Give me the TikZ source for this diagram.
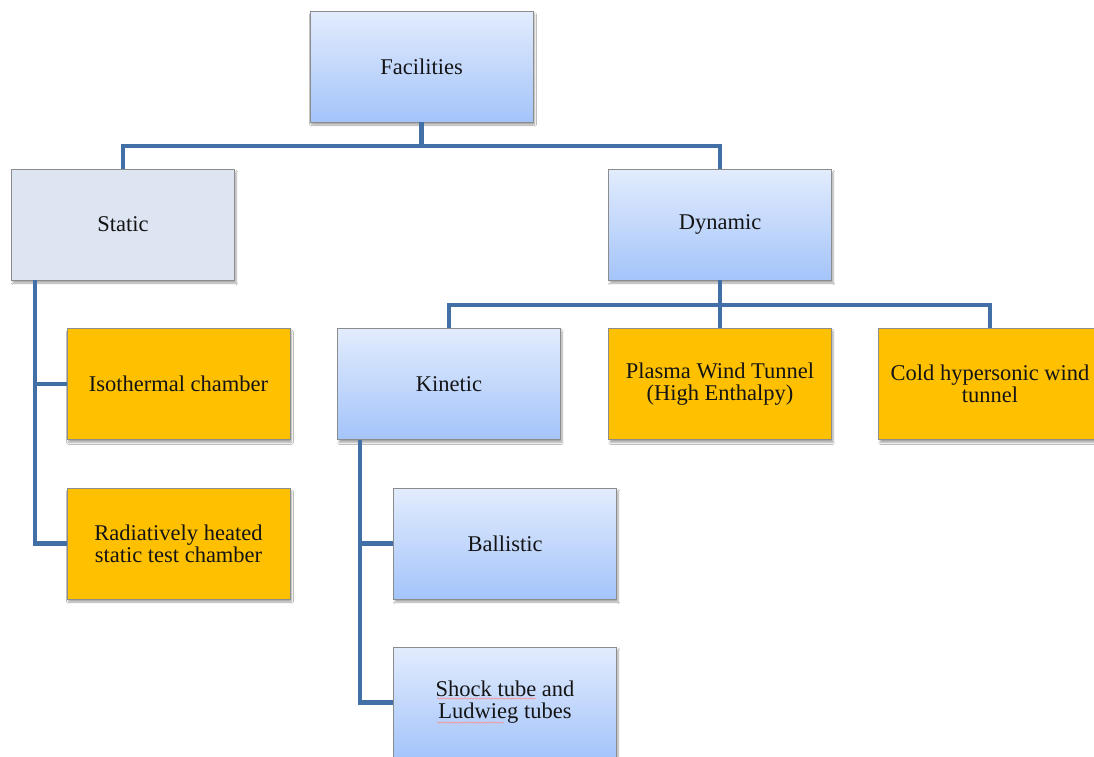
\documentclass[tikz,border=0pt]{standalone}
\usepackage{fontspec}
\setmainfont{Liberation Serif}
\usetikzlibrary{shadows.blur,decorations.pathmorphing}

\definecolor{linkblue}{RGB}{66,111,166}
\definecolor{boxtop}{RGB}{226,236,253}
\definecolor{boxbot}{RGB}{164,196,250}
\definecolor{staticfill}{RGB}{220,229,241}
\definecolor{orangefill}{RGB}{255,192,0}
\definecolor{boxedge}{RGB}{140,140,140}
\definecolor{txt}{RGB}{20,20,20}

\tikzset{
  box/.style={draw=boxedge, line width=0.9pt, minimum width=223pt, minimum height=111pt,
    align=center, text=txt, font=\fontsize{22.5}{22}\selectfont,
    blur shadow={shadow xshift=1.5pt, shadow yshift=-3pt, shadow blur steps=6, shadow opacity=35}},
  bluebox/.style={box, top color=boxtop, bottom color=boxbot},
  greybox/.style={box, fill=staticfill},
  orangebox/.style={box, fill=orangefill},
  link/.style={draw=linkblue, line width=4.5pt},
  squiggle/.style={draw=red!45, line width=0.5pt, decorate,
    decoration={snake, amplitude=0.7pt, segment length=3pt}}
}

\begin{document}
\begin{tikzpicture}[x=1pt,y=-1pt]
  \clip (0,0) rectangle (1094,756);
  \fill[white] (0,0) rectangle (1094,756);

  % branch points of the tree
  \coordinate (busTop) at (421.5,146);
  \coordinate (busDyn) at (720,305);

  % boxes
  \node[bluebox]   (fac)    at (421.5,66.5)  {Facilities};
  \node[greybox]   (static) at (123,224.5)   {Static};
  \node[bluebox]   (dyn)    at (720,224.5)   {Dynamic};
  \node[orangebox] (iso)    at (178.5,384)   {Isothermal chamber};
  \node[orangebox] (rad)    at (178.5,543.5) {Radiatively heated\\static test chamber};
  \node[bluebox]   (kin)    at (449,384)     {Kinetic};
  \node[orangebox] (plasma) at (720,384)     {Plasma Wind Tunnel\\(High Enthalpy)};
  \node[orangebox] (cold)   at (990,384)     {Cold hypersonic wind\\tunnel};
  \node[bluebox]   (bal)    at (505,543.5)   {Ballistic};
  \node[bluebox]   (shock)  at (505,702.5)   {Shock tube and\\Ludwieg tubes};

  % spell-check underlines
  \draw[squiggle] ([shift={(-68,-4)}]shock.center) -- ([shift={(31,-4)}]shock.center);
  \draw[squiggle] ([shift={(-68,20)}]shock.center) -- ([shift={(-1,20)}]shock.center);

  % tree connectors
  \draw[link] (fac.south) -- (busTop) -| (static.north);
  \draw[link] (busTop) -| (dyn.north);
  \draw[link] ([xshift=24pt]static.south west) |- (iso.west);
  \draw[link] ([xshift=24pt]static.south west) |- (rad.west);
  \draw[link] (dyn.south) -- (plasma.north);
  \draw[link] (busDyn) -| (kin.north);
  \draw[link] (busDyn) -| (cold.north);
  \draw[link] ([xshift=23pt]kin.south west) |- (bal.west);
  \draw[link] ([xshift=23pt]kin.south west) |- (shock.west);
\end{tikzpicture}
\end{document}
